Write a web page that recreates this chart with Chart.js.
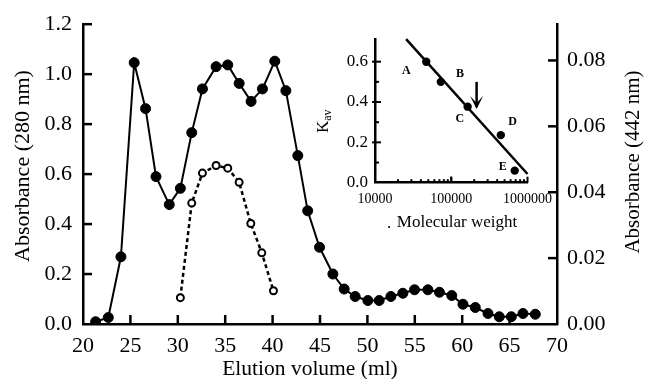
<!DOCTYPE html>
<html>
<head>
<meta charset="utf-8">
<script src="https://cdn.jsdelivr.net/npm/chart.js@4/dist/chart.umd.min.js"></script>
<style>
html,body{margin:0;padding:0;background:#fff;overflow:hidden}
#wrap{position:relative;width:646px;height:379px;background:#fff}
#main{position:absolute;left:0;top:0}
#inset{position:absolute;left:300px;top:20px}
</style>
</head>
<body>
<div id="wrap">
<canvas id="main" width="646" height="379"></canvas>
<canvas id="inset" width="260" height="220"></canvas>
</div>
<script>
// ---- Main chromatogram data ----
const elution280 = [21.33,22.67,24.0,25.4,26.6,27.7,29.1,30.27,31.47,32.6,34.04,35.27,36.47,37.73,38.93,40.23,41.4,42.66,43.7,44.95,46.36,47.55,48.71,50.05,51.24,52.48,53.74,54.97,56.38,57.6,58.9,60.08,61.38,62.72,63.91,65.18,66.41,67.71];
const abs280 = [0.009,0.026,0.269,1.046,0.862,0.59,0.478,0.543,0.766,0.941,1.03,1.037,0.963,0.891,0.941,1.052,0.934,0.674,0.453,0.307,0.2,0.14,0.11,0.094,0.094,0.11,0.123,0.137,0.137,0.127,0.114,0.079,0.066,0.042,0.029,0.029,0.042,0.039];
const elution442 = [30.27,31.47,32.6,34.04,35.27,36.47,37.7,38.86,40.09];
const abs442 = [0.008,0.0367,0.0458,0.0481,0.0473,0.043,0.0305,0.0216,0.0101];
const xTicks = [20,25,30,35,40,45,50,55,60,65,70];
const leftTicks = [0,0.2,0.4,0.6,0.8,1.0,1.2];
const rightTicks = [0,0.02,0.04,0.06,0.08];

// ---- Inset calibration data ----
const stdNames = ['A','B','C','D','E'];
const stdMW = [47000,73000,164000,447000,680000];
const stdKav = [0.6,0.5,0.377,0.236,0.06];
const fitMW = [25600,1000000];
const fitKav = [0.712,0.043];
const arrowMW = 215000;
const arrowKav = [0.5,0.365];
const mwTicks = [10000,100000,1000000];
const kavTicks = [0,0.2,0.4,0.6];
// annotation anchors (data coordinates) for the standard letters
const nameMW = [25700,130000,130000,637000,474000];
const nameKav = [0.555,0.539,0.314,0.3,0.079];

const FONT = "'Liberation Serif','Times New Roman',serif";
const toXY = (xs, ys) => xs.map((x, i) => ({x: x, y: ys[i]}));

function seg(ctx, x1, y1, x2, y2) { ctx.beginPath(); ctx.moveTo(x1, y1); ctx.lineTo(x2, y2); ctx.stroke(); }

const mainDecor = {
  id: 'mainDecor',
  afterDraw(chart) {
    const {ctx, chartArea: a, scales} = chart;
    const x = scales.x, y = scales.y, y2 = scales.y2;
    ctx.save();
    ctx.strokeStyle = '#000'; ctx.lineWidth = 2.5;
    xTicks.forEach(v => { if (v === 20 || v === 70) return; const p = x.getPixelForValue(v); seg(ctx, p, a.bottom, p, a.bottom - 9); });
    leftTicks.forEach(v => { if (v === 0) return; const p = y.getPixelForValue(v); seg(ctx, a.left, p, a.left + 9, p); });
    rightTicks.forEach(v => { if (v === 0) return; const p = y2.getPixelForValue(v); seg(ctx, a.right, p, a.right - 9, p); });
    ctx.fillStyle = '#000';
    ctx.textBaseline = 'alphabetic'; ctx.textAlign = 'center';
    ctx.font = '21.5px ' + FONT;
    ctx.fillText('Elution volume (ml)', 310, 375);
    ctx.save(); ctx.translate(29, 166); ctx.rotate(-Math.PI / 2);
    ctx.font = '22px ' + FONT; ctx.fillText('Absorbance (280 nm)', 0, 0); ctx.restore();
    ctx.save(); ctx.translate(639, 162); ctx.rotate(-Math.PI / 2);
    ctx.font = '21px ' + FONT; ctx.fillText('Absorbance (442 nm)', 0, 0); ctx.restore();
    ctx.restore();
  }
};

new Chart(document.getElementById('main'), {
  type: 'line',
  data: {
    datasets: [
      { data: toXY(elution280, abs280), yAxisID: 'y', borderColor: '#000', borderWidth: 2,
        pointRadius: 5, pointBackgroundColor: '#000', pointBorderColor: '#000', pointBorderWidth: 1,
        tension: 0, fill: false },
      { data: toXY(elution442, abs442), yAxisID: 'y2', borderColor: '#000', borderWidth: 2.5, borderDash: [4, 3],
        pointRadius: 3.5, pointBackgroundColor: '#fff', pointBorderColor: '#000', pointBorderWidth: 2,
        tension: 0, fill: false }
    ]
  },
  options: {
    responsive: false, animation: false, devicePixelRatio: 1,
    layout: { padding: { top: 19, left: 0, right: 0, bottom: 0 } },
    plugins: { legend: { display: false }, tooltip: { enabled: false } },
    scales: {
      x: {
        type: 'linear', position: 'bottom', min: 20, max: 70,
        afterBuildTicks: s => { s.ticks = xTicks.map(v => ({value: v})); },
        afterFit: s => { s.height = 55; },
        grid: { display: false, drawTicks: false },
        border: { display: true, color: '#000', width: 2.5 },
        ticks: { font: { family: FONT, size: 22 }, color: '#000', padding: 9, maxRotation: 0, autoSkip: false,
                 callback: v => String(v) }
      },
      y: {
        type: 'linear', position: 'left', min: 0, max: 1.2,
        afterBuildTicks: s => { s.ticks = leftTicks.map(v => ({value: v})); },
        afterFit: s => { s.width = 83; },
        grid: { display: false, drawTicks: false },
        border: { display: true, color: '#000', width: 2.5 },
        ticks: { font: { family: FONT, size: 22 }, color: '#000', padding: 11, callback: v => Number(v).toFixed(1) }
      },
      y2: {
        type: 'linear', position: 'right', min: 0, max: 0.091,
        afterBuildTicks: s => { s.ticks = rightTicks.map(v => ({value: v})); },
        afterFit: s => { s.width = 89; },
        grid: { display: false, drawTicks: false },
        border: { display: true, color: '#000', width: 2.5 },
        ticks: { font: { family: FONT, size: 22 }, color: '#000', padding: 10, callback: v => Number(v).toFixed(2) }
      }
    }
  },
  plugins: [mainDecor]
});

const insetDecor = {
  id: 'insetDecor',
  afterDraw(chart) {
    const {ctx, chartArea: a, scales} = chart;
    const x = scales.x, y = scales.y;
    ctx.save();
    ctx.strokeStyle = '#000'; ctx.lineWidth = 2;
    [0.1,0.2,0.3,0.4,0.5,0.6].forEach(v => {
      const p = y.getPixelForValue(v);
      const major = kavTicks.indexOf(v) >= 0;
      seg(ctx, a.left - (major ? 3 : 0), p, a.left + (major ? 6 : 4), p);
    });
    [10000, 100000].forEach(d => {
      for (let m = 1; m <= 10; m++) {
        const v = d * m; if (v <= 10000) continue;
        const p = x.getPixelForValue(v);
        const major = mwTicks.indexOf(v) >= 0;
        seg(ctx, p, a.bottom, p, a.bottom - (major ? 6 : 3.5));
      }
    });
    // arrow
    ctx.lineWidth = 2.5;
    const ax = x.getPixelForValue(arrowMW);
    const ay1 = y.getPixelForValue(arrowKav[0]), ay2 = y.getPixelForValue(arrowKav[1]);
    seg(ctx, ax, ay1, ax, ay2 - 2);
    ctx.beginPath(); ctx.moveTo(ax - 6.5, ay2 - 13); ctx.lineTo(ax, ay2); ctx.lineTo(ax + 6.5, ay2 - 13);
    ctx.lineTo(ax, ay2 - 6); ctx.closePath(); ctx.fillStyle = '#000'; ctx.fill();
    // letters
    ctx.fillStyle = '#000'; ctx.textAlign = 'center'; ctx.textBaseline = 'middle';
    ctx.font = 'bold 12px ' + FONT;
    stdNames.forEach((n, i) => ctx.fillText(n, x.getPixelForValue(nameMW[i]), y.getPixelForValue(nameKav[i])));
    // axis titles
    ctx.textBaseline = 'alphabetic';
    ctx.font = '17px ' + FONT;
    ctx.fillText('Molecular weight', 157, 207);
    ctx.fillText('.', 89, 208);
    ctx.save(); ctx.translate(28, 102); ctx.rotate(-Math.PI / 2);
    ctx.textAlign = 'left';
    ctx.font = '17px ' + FONT; ctx.fillText('K', -11, 0);
    const kw = ctx.measureText('K').width;
    ctx.font = '12px ' + FONT; ctx.fillText('av', -11 + kw, 3);
    ctx.restore();
    ctx.restore();
  }
};

new Chart(document.getElementById('inset'), {
  type: 'line',
  data: {
    datasets: [
      { data: toXY(fitMW, fitKav), borderColor: '#000', borderWidth: 2.5, pointRadius: 0, tension: 0, fill: false, clip: false },
      { data: toXY(stdMW, stdKav), showLine: false, pointRadius: 4.2, pointBackgroundColor: '#000', pointBorderColor: '#000', pointBorderWidth: 0, clip: false }
    ]
  },
  options: {
    responsive: false, animation: false, devicePixelRatio: 1,
    layout: { padding: { top: 19.5, right: 32, left: 0, bottom: 0 } },
    plugins: { legend: { display: false }, tooltip: { enabled: false } },
    scales: {
      x: {
        type: 'logarithmic', position: 'bottom', min: 10000, max: 1000000,
        afterBuildTicks: s => { s.ticks = mwTicks.map(v => ({value: v})); },
        afterFit: s => { s.height = 57.3; },
        grid: { display: false, drawTicks: false },
        border: { display: true, color: '#000', width: 2.5 },
        ticks: { font: { family: FONT, size: 14 }, color: '#000', padding: 8, maxRotation: 0, autoSkip: false,
                 callback: v => String(v) }
      },
      y: {
        type: 'linear', position: 'left', min: 0, max: 0.71,
        afterBuildTicks: s => { s.ticks = kavTicks.map(v => ({value: v})); },
        afterFit: s => { s.width = 75; },
        grid: { display: false, drawTicks: false },
        border: { display: true, color: '#000', width: 2.5 },
        ticks: { font: { family: FONT, size: 17 }, color: '#000', padding: 7, callback: v => Number(v).toFixed(1) }
      }
    }
  },
  plugins: [insetDecor]
});
</script>
</body>
</html>
